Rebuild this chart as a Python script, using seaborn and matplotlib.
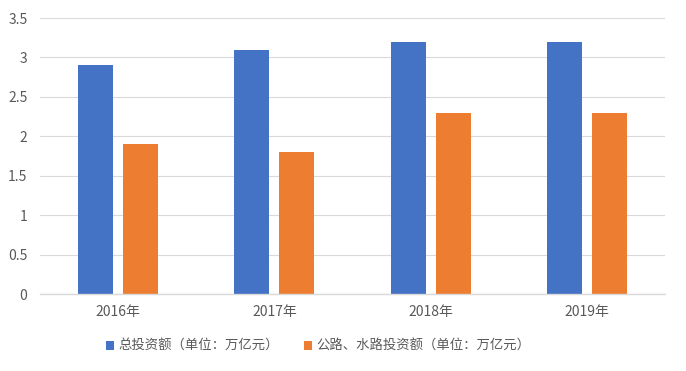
import matplotlib
matplotlib.use("Agg")
import matplotlib.pyplot as plt
import seaborn as sns
import pandas as pd
from matplotlib.ticker import FuncFormatter

years = ["2016年", "2017年", "2018年", "2019年"]
series_names = ["总投资额（单位：万亿元）", "公路、水路投资额（单位：万亿元）"]
total_invest = [2.9, 3.1, 3.2, 3.2]
road_water_invest = [1.9, 1.8, 2.3, 2.3]

df = pd.DataFrame({
    "year": years * 2,
    "series": [series_names[0]] * 4 + [series_names[1]] * 4,
    "value": total_invest + road_water_invest,
})

sns.set_theme(style="white")
plt.rcParams['font.family'] = ['Noto Sans CJK SC', 'DejaVu Sans']

fig = plt.figure(figsize=(6.86, 3.71), dpi=100)
ax = fig.add_axes([40/686, 77/371, 625/686, 276/371])

sns.barplot(data=df, x="year", y="value", hue="series", ax=ax,
            palette=["#4472C4", "#ED7D31"], width=0.577, gap=0.222,
            saturation=1, legend=True, linewidth=0)

ax.set_xlim(-0.5, 3.5)
ax.set_ylim(0, 3.5)
ax.set_yticks([0, 0.5, 1, 1.5, 2, 2.5, 3, 3.5])
ax.yaxis.set_major_formatter(FuncFormatter(lambda v, p: f"{v:g}"))
ax.grid(axis="y", color="#D9D9D9", linewidth=0.8)
ax.set_axisbelow(True)
for s in ["left", "right", "top"]:
    ax.spines[s].set_visible(False)
ax.spines["bottom"].set_color("#D9D9D9")
ax.spines["bottom"].set_linewidth(1)
ax.set_xlabel("")
ax.set_ylabel("")
ax.tick_params(axis="both", length=0, labelsize=10, colors="#595959")
ax.tick_params(axis="x", pad=8)
ax.tick_params(axis="y", pad=9)

h, l = ax.get_legend_handles_labels()
ax.legend_.remove()
fig.legend(h, l, loc="center left", bbox_to_anchor=(106/686, 25/371), ncol=2,
           frameon=False, fontsize=9.6, handlelength=0.6, handleheight=0.6,
           handletextpad=0.3, columnspacing=1.9, labelcolor="#595959",
           borderpad=0, borderaxespad=0)

fig.savefig("out.png", dpi=100)
